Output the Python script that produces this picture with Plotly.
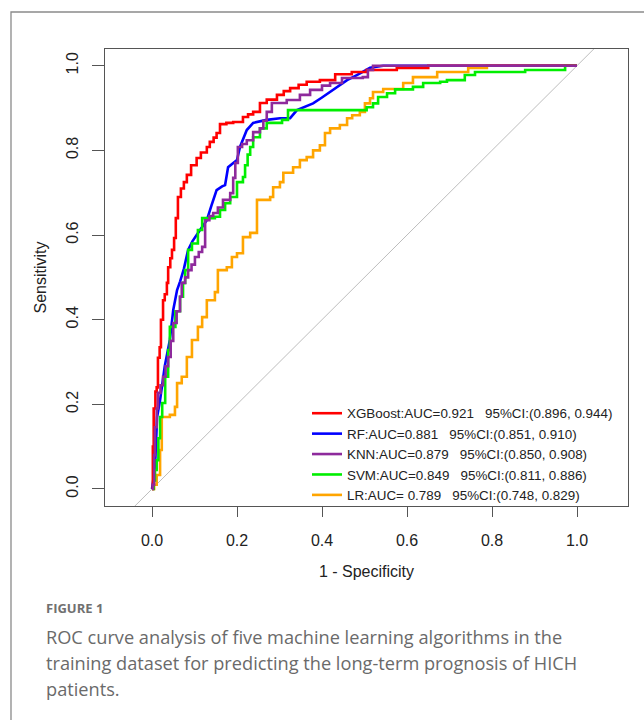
import plotly.graph_objects as go

# ---------------- data ----------------
tick_vals = [0.0, 0.2, 0.4, 0.6, 0.8, 1.0]
tick_text = ["0.0", "0.2", "0.4", "0.6", "0.8", "1.0"]

xgb_fpr = [0, 0.002, 0.004, 0.008, 0.011, 0.014, 0.018, 0.021, 0.026, 0.030, 0.035, 0.038, 0.043, 0.047,
           0.052, 0.056, 0.061, 0.068, 0.075, 0.082, 0.092, 0.105, 0.115, 0.129, 0.136, 0.145, 0.152, 0.160,
           0.175, 0.191, 0.214, 0.226, 0.238, 0.254, 0.270, 0.294, 0.310, 0.325, 0.345, 0.364, 0.395, 0.431,
           0.470, 0.505, 0.576, 0.650, 1.0]
xgb_tpr = [0, 0.10, 0.19, 0.23, 0.24, 0.31, 0.335, 0.40, 0.446, 0.46, 0.487, 0.524, 0.545, 0.565,
           0.593, 0.64, 0.69, 0.71, 0.725, 0.742, 0.765, 0.782, 0.795, 0.808, 0.82, 0.83, 0.841, 0.862,
           0.865, 0.867, 0.879, 0.885, 0.891, 0.912, 0.92, 0.931, 0.94, 0.947, 0.955, 0.962, 0.966, 0.98,
           0.985, 0.99, 0.995, 1.0, 1.0]

rf_fpr = [0, 0.003, 0.007, 0.012, 0.019, 0.030, 0.042, 0.050, 0.059, 0.066, 0.075, 0.085, 0.095, 0.113,
          0.129, 0.140, 0.152, 0.165, 0.172, 0.179, 0.200, 0.207, 0.215, 0.223, 0.238, 0.270, 0.301, 0.325,
          0.341, 0.360, 0.379, 0.400, 0.419, 0.440, 0.459, 0.482, 0.513, 0.544, 1.0]
rf_tpr = [0, 0.02, 0.05, 0.17, 0.21, 0.29, 0.352, 0.423, 0.47, 0.49, 0.52, 0.565, 0.585, 0.612,
          0.635, 0.67, 0.706, 0.715, 0.718, 0.76, 0.777, 0.808, 0.83, 0.848, 0.865, 0.872, 0.876, 0.876,
          0.895, 0.903, 0.911, 0.925, 0.938, 0.953, 0.966, 0.978, 0.995, 1.0, 1.0]

knn_fpr = [0, 0.002, 0.005, 0.007, 0.011, 0.014, 0.020, 0.026, 0.032, 0.038, 0.044, 0.050, 0.058, 0.066,
           0.070, 0.078, 0.085, 0.093, 0.101, 0.110, 0.118, 0.125, 0.135, 0.144, 0.155, 0.167, 0.184, 0.191,
           0.196, 0.202, 0.212, 0.223, 0.238, 0.254, 0.262, 0.270, 0.282, 0.317, 0.348, 0.372, 0.400, 0.419,
           0.447, 0.496, 0.508, 0.520, 1.0]
knn_tpr = [0, 0.01, 0.08, 0.146, 0.19, 0.227, 0.245, 0.265, 0.29, 0.312, 0.35, 0.392, 0.42, 0.454,
           0.487, 0.50, 0.517, 0.53, 0.548, 0.56, 0.572, 0.635, 0.645, 0.652, 0.665, 0.683, 0.699, 0.735,
           0.77, 0.808, 0.815, 0.824, 0.843, 0.852, 0.87, 0.891, 0.912, 0.919, 0.931, 0.943, 0.953, 0.959,
           0.971, 0.973, 0.99, 1.0, 1.0]

svm_fpr = [0, 0.004, 0.007, 0.011, 0.015, 0.019, 0.024, 0.031, 0.038, 0.042, 0.055, 0.066, 0.073, 0.078,
           0.085, 0.094, 0.108, 0.118, 0.135, 0.148, 0.160, 0.172, 0.184, 0.200, 0.214, 0.219, 0.225, 0.231,
           0.238, 0.254, 0.270, 0.306, 0.320, 0.496, 0.505, 0.520, 0.532, 0.553, 0.572, 0.614, 0.638, 0.678,
           0.694, 0.736, 0.760, 0.878, 0.972, 0.972, 1.0]
svm_tpr = [0, 0.02, 0.045, 0.068, 0.12, 0.17, 0.203, 0.265, 0.328, 0.383, 0.42, 0.454, 0.487, 0.517,
           0.565, 0.58, 0.612, 0.64, 0.64, 0.643, 0.659, 0.675, 0.69, 0.725, 0.737, 0.765, 0.79, 0.808,
           0.831, 0.852, 0.865, 0.872, 0.895, 0.895, 0.902, 0.911, 0.926, 0.935, 0.944, 0.95, 0.959, 0.962,
           0.966, 0.978, 0.985, 0.99, 0.997, 1.0, 1.0]

lr_fpr = [0, 0.005, 0.011, 0.019, 0.023, 0.042, 0.054, 0.059, 0.070, 0.082, 0.094, 0.108, 0.118, 0.129,
          0.148, 0.155, 0.176, 0.188, 0.200, 0.214, 0.231, 0.247, 0.278, 0.285, 0.301, 0.309, 0.332, 0.348,
          0.364, 0.379, 0.395, 0.407, 0.419, 0.442, 0.459, 0.471, 0.489, 0.501, 0.513, 0.520, 0.544, 0.576,
          0.591, 0.614, 0.671, 0.744, 0.788, 0.788, 1.0]
lr_tpr = [0, 0.01, 0.033, 0.092, 0.17, 0.175, 0.194, 0.25, 0.265, 0.312, 0.352, 0.383, 0.406, 0.446,
          0.465, 0.517, 0.524, 0.548, 0.557, 0.595, 0.605, 0.683, 0.69, 0.713, 0.725, 0.747, 0.76, 0.777,
          0.784, 0.80, 0.812, 0.841, 0.852, 0.86, 0.876, 0.883, 0.891, 0.911, 0.923, 0.938, 0.945, 0.945,
          0.959, 0.973, 0.985, 0.995, 0.995, 1.0, 1.0]

legend_labels = [
    "XGBoost:AUC=0.921   95%CI:(0.896, 0.944)",
    "RF:AUC=0.881   95%CI:(0.851, 0.910)",
    "KNN:AUC=0.879   95%CI:(0.850, 0.908)",
    "SVM:AUC=0.849   95%CI:(0.811, 0.886)",
    "LR:AUC= 0.789   95%CI:(0.748, 0.829)",
]
colors = ["#FF0000", "#0000FF", "#8E2A9C", "#00EE00", "#FFA500"]

caption_title = "FIGURE 1"
caption_lines = [
    "ROC curve analysis of five machine learning algorithms in the",
    "training dataset for predicting the long-term prognosis of HICH",
    "patients.",
]

# ---------------- figure ----------------
W, H = 644, 720
L, R, T, B = 105, 16, 49, 214
PW, PH = W - L - R, H - T - B


def px_x(p):
    return (p - L) / PW


def px_y(p):
    return (H - B - p) / PH


fig = go.Figure()

# chance diagonal
fig.add_trace(go.Scatter(x=[-0.3, 1.3], y=[-0.3, 1.3], mode="lines",
                         line=dict(color="#BDBDBD", width=1), showlegend=False, hoverinfo="skip"))

series = [
    (lr_fpr, lr_tpr, 4, "hv"),
    (rf_fpr, rf_tpr, 1, "linear"),
    (svm_fpr, svm_tpr, 3, "hv"),
    (xgb_fpr, xgb_tpr, 0, "hv"),
    (knn_fpr, knn_tpr, 2, "hv"),
]
for fx, ty, idx, shape in series:
    fig.add_trace(go.Scatter(
        x=fx, y=ty, mode="lines",
        line=dict(color=colors[idx], width=2.6, shape=shape),
        name=legend_labels[idx].replace(" ", "\u00a0"),
        legendrank=idx + 1,
    ))

axis_common = dict(
    tickvals=tick_vals, ticktext=tick_text, ticks="outside",
    tickcolor="#555555", tickwidth=1, showline=True, mirror=True,
    linecolor="#555555", linewidth=1, showgrid=False, zeroline=False,
    tickfont=dict(size=16, color="#222222"),
)

fig.update_layout(
    width=W, height=H,
    margin=dict(l=L, r=R, t=T, b=B),
    paper_bgcolor="white", plot_bgcolor="white",
    font=dict(family="Liberation Sans, Arial, sans-serif", color="#222222"),
    xaxis=dict(range=[-0.1106, 1.12], ticklen=10, ticklabelstandoff=10,
               title=dict(text="1 - Specificity", font=dict(size=16), standoff=17),
               **axis_common),
    yaxis=dict(range=[-0.0402, 1.0395], ticklen=12, tickangle=-90, ticklabelstandoff=8,
               title=dict(text="Sensitivity", font=dict(size=16), standoff=12),
               **axis_common),
    legend=dict(x=px_x(307), y=px_y(398), xanchor="left", yanchor="top",
                bgcolor="rgba(0,0,0,0)", borderwidth=0, itemwidth=30,
                font=dict(size=13.4, color="#222222"), tracegroupgap=0),
    showlegend=True,
)

# outer frame of the figure panel (left and top edges visible)
fig.add_shape(type="rect", xref="paper", yref="paper",
              x0=px_x(11), y0=px_y(12), x1=px_x(700), y1=px_y(780),
              line=dict(color="#8A8A8A", width=1.3), fillcolor="rgba(0,0,0,0)", layer="below")

# caption
fig.add_annotation(xref="paper", yref="paper", x=px_x(44), y=px_y(608),
                   xanchor="left", yanchor="middle", showarrow=False,
                   text="<b>" + caption_title + "</b>",
                   font=dict(family="Open Sans, sans-serif", size=13, color="#707070"))
for i, line in enumerate(caption_lines):
    fig.add_annotation(xref="paper", yref="paper", x=px_x(44), y=px_y(637 + 26 * i),
                       xanchor="left", yanchor="middle", showarrow=False, text=line,
                       font=dict(family="Open Sans, sans-serif", size=18.2, color="#6A6A6A"))

fig.write_html("out.html")
